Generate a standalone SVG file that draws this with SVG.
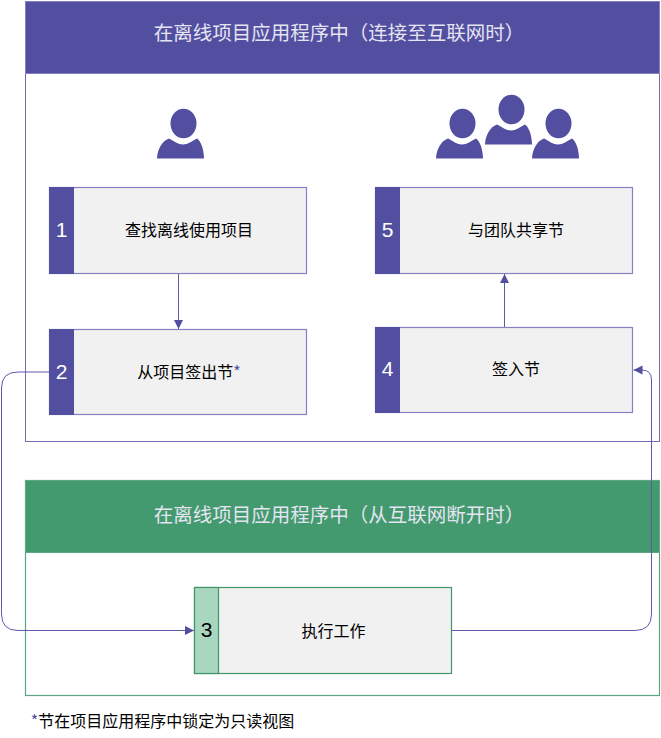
<svg xmlns="http://www.w3.org/2000/svg" width="661" height="738" viewBox="0 0 661 738">
<style>
text{font-family:"Noto Sans CJK SC","Liberation Sans",sans-serif;text-anchor:middle}
.frame-p{fill:#fff;stroke:#6f6bb3;stroke-width:1}
.head-p{fill:#534fa0;stroke:#8480c2;stroke-width:1}
.frame-g{fill:#fff;stroke:#5aa582;stroke-width:1.200}
.head-g{fill:#439a6e;stroke:#5fa885;stroke-width:1}
.title{font-size:19.500px;fill:#e4e4f2}
.card{fill:#f1f1f1;stroke:#8480c2;stroke-width:1.200}
.card-g{fill:#f1f1f1;stroke:#3f9468;stroke-width:1.200}
.stripe{fill:#534fa0}
.stripe-g{fill:#a8d6bf;stroke:#3f9468;stroke-width:1.200}
.num{font-family:"Liberation Sans",sans-serif;font-size:21px;fill:#fff}
.lab{font-size:16px;fill:#000}
.icon{fill:#534fa0}
.conn{fill:none;stroke:#5f5bab;stroke-width:1}
</style>
<defs>
<marker id="arrow" markerUnits="userSpaceOnUse" markerWidth="10" markerHeight="10" refX="9" refY="5" orient="auto"><path d="M0,0.5 L9,5 L0,9.500 Z" fill="#534fa0"/></marker>
<g id="person"><ellipse cx="183.500" cy="123.500" rx="13" ry="14.800"/><path d="M157,158.500 C157.500,149 162,141 169,138.500 C174,141 178,144.500 183,144.500 C188,144.500 192,141 197,138.500 C201,141 204,150 204,158.500 Z"/></g>
</defs>
<g id="frame-online"><rect class="frame-p" x="25.500" y="1.500" width="634" height="440"/><rect class="head-p" x="25.500" y="1.500" width="634" height="72"/><text class="title" x="339" y="39.500">在离线项目应用程序中（连接至互联网时）</text></g>
<g id="frame-offline"><rect class="frame-g" x="25.500" y="480.500" width="634" height="215"/><rect class="head-g" x="25.500" y="480.500" width="634" height="72"/><text class="title" x="339" y="521.500">在离线项目应用程序中（从互联网断开时）</text></g>
<g id="icon-user" class="icon"><use href="#person"/></g>
<g id="icon-team" class="icon"><use href="#person" x="279"/><use href="#person" x="328" y="-14"/><use href="#person" x="375"/></g>
<g id="node-1"><rect class="card" x="49.500" y="187.500" width="257" height="86"/><rect class="stripe" x="49" y="187" width="25" height="87"/><text class="num" x="61.500" y="237">1</text><text class="lab" x="189" y="236">查找离线使用项目</text></g>
<g id="node-2"><rect class="card" x="49.500" y="329.500" width="257" height="85"/><rect class="stripe" x="49" y="329" width="25" height="86"/><text class="num" x="61.500" y="379">2</text><text class="lab" x="189" y="377.500">从项目签出节<tspan fill="#534fa0">*</tspan></text></g>
<g id="node-3"><rect class="card-g" x="194.500" y="587.500" width="257" height="86"/><rect class="stripe-g" x="194.500" y="587.500" width="24" height="86"/><text class="num" x="206.500" y="637" style="fill:#000">3</text><text class="lab" x="333.500" y="636.500">执行工作</text></g>
<g id="node-4"><rect class="card" x="375.500" y="327.500" width="257" height="85"/><rect class="stripe" x="375" y="327" width="25" height="86"/><text class="num" x="387.500" y="376">4</text><text class="lab" x="516" y="375">签入节</text></g>
<g id="node-5"><rect class="card" x="375.500" y="187.500" width="257" height="86"/><rect class="stripe" x="375" y="187" width="25" height="87"/><text class="num" x="387.500" y="237">5</text><text class="lab" x="516" y="236">与团队共享节</text></g>
<g id="connectors">
<path class="conn" marker-end="url(#arrow)" d="M178.500,274 V329"/>
<path class="conn" marker-end="url(#arrow)" d="M504.500,327 V274"/>
<path class="conn" marker-end="url(#arrow)" d="M49,372 H18 Q1.500,372 1.500,388 V614 Q1.500,630.500 18,630.500 H194"/>
<path class="conn" marker-end="url(#arrow)" d="M452,630.500 H635 Q651.500,630.500 651.500,614 V380 Q651.500,370 642,370 H633.500"/>
</g>
<text id="footnote" x="162.500" y="726.500" style="font-size:16px"><tspan fill="#534fa0">*</tspan>节在项目应用程序中锁定为只读视图</text>
</svg>
